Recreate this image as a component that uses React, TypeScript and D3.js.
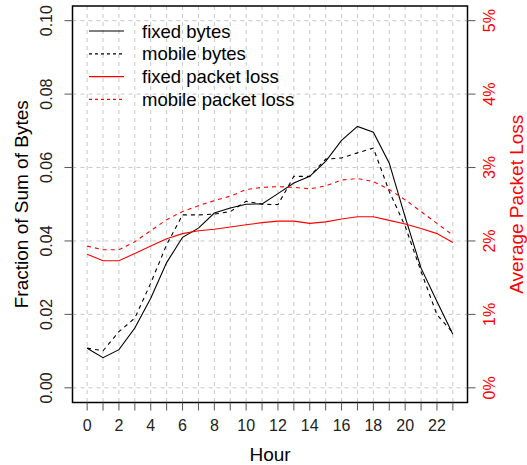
import React from 'react';
import * as d3 from 'd3';

const hours = d3.range(0, 24);
const fixedBytes = [0.0108, 0.0082, 0.0104, 0.0163, 0.0244, 0.0341, 0.0410, 0.0435, 0.0476, 0.0490, 0.0500, 0.0501, 0.0529, 0.0558, 0.0576, 0.0617, 0.0674, 0.0712, 0.0696, 0.0612, 0.0465, 0.0326, 0.0235, 0.0146];
const mobileBytes = [0.0108, 0.0101, 0.0153, 0.0190, 0.0285, 0.0390, 0.0471, 0.0471, 0.0473, 0.0480, 0.0508, 0.0500, 0.0499, 0.0576, 0.0576, 0.0623, 0.0626, 0.0640, 0.0653, 0.0535, 0.0440, 0.0317, 0.0199, 0.0150];
// packet loss in percent
const fixedLoss = [1.82, 1.73, 1.73, 1.83, 1.93, 2.03, 2.10, 2.14, 2.16, 2.19, 2.22, 2.25, 2.27, 2.27, 2.24, 2.26, 2.30, 2.33, 2.33, 2.28, 2.23, 2.17, 2.10, 1.98];
const mobileLoss = [1.93, 1.88, 1.88, 1.99, 2.14, 2.29, 2.40, 2.48, 2.55, 2.61, 2.70, 2.73, 2.74, 2.73, 2.71, 2.75, 2.83, 2.85, 2.81, 2.70, 2.56, 2.40, 2.24, 2.08];
const leftTicks = [0, 0.02, 0.04, 0.06, 0.08, 0.1];
const rightTicks = [0, 1, 2, 3, 4, 5];
const legendItems = [
  { label: 'fixed bytes', color: '#000', dash: null },
  { label: 'mobile bytes', color: '#000', dash: '4,4' },
  { label: 'fixed packet loss', color: '#ff0000', dash: null },
  { label: 'mobile packet loss', color: '#ff0000', dash: '4,4' },
];

const width = 527, height = 465;
const box = { left: 72.5, right: 467.5, top: 6, bottom: 402.5 };
const font = '"Liberation Sans", Arial, Helvetica, sans-serif';

export default function App() {
  const x = d3.scaleLinear().domain([-0.92, 23.92]).range([box.left, box.right]);
  const y = d3.scaleLinear().domain([-0.004, 0.104]).range([box.bottom, box.top]);
  const yr = d3.scaleLinear().domain([-0.2, 5.2]).range([box.bottom, box.top]);

  const lineB = d3.line<number>().x((_, i) => x(hours[i])).y(d => y(d));
  const lineL = d3.line<number>().x((_, i) => x(hours[i])).y(d => yr(d));

  const series = [
    { d: lineB(fixedBytes), color: '#000', dash: null },
    { d: lineB(mobileBytes), color: '#000', dash: '4,4' },
    { d: lineL(fixedLoss), color: '#ff0000', dash: null },
    { d: lineL(mobileLoss), color: '#ff0000', dash: '4,4' },
  ];

  const midY = (box.top + box.bottom) / 2;

  return (
    <svg width={width} height={height} style={{ position: 'absolute', left: 0, top: 0, background: '#fff' }} fontFamily={font}>
      {/* grid */}
      <g stroke="#c8c8c8" strokeDasharray="4,4" strokeWidth={1}>
        {hours.map(h => (
          <line key={'v' + h} x1={x(h)} x2={x(h)} y1={box.top} y2={box.bottom} />
        ))}
        {leftTicks.map(t => (
          <line key={'h' + t} x1={box.left} x2={box.right} y1={y(t)} y2={y(t)} />
        ))}
      </g>

      {/* series */}
      {series.map((s, i) => (
        <path key={i} d={s.d || ''} fill="none" stroke={s.color} strokeWidth={1.1} strokeDasharray={s.dash || undefined} />
      ))}

      {/* box */}
      <rect x={box.left} y={box.top} width={box.right - box.left} height={box.bottom - box.top} fill="none" stroke="#000" strokeWidth={1.5} />

      {/* x axis */}
      <g>
        {hours.map(h => (
          <line key={h} x1={x(h)} x2={x(h)} y1={box.bottom} y2={box.bottom + 8} stroke="#555" />
        ))}
        {hours.filter(h => h % 2 === 0).map(h => (
          <text key={h} x={x(h)} y={431} textAnchor="middle" fontSize={16} fill="#222">{h}</text>
        ))}
        <text x={(box.left + box.right) / 2} y={461} textAnchor="middle" fontSize={19} fill="#000">Hour</text>
      </g>

      {/* left axis */}
      <g>
        {leftTicks.map(t => (
          <g key={t}>
            <line x1={box.left - 8} x2={box.left} y1={y(t)} y2={y(t)} stroke="#555" />
            <text transform={`translate(52,${y(t)}) rotate(-90)`} textAnchor="middle" fontSize={16} fill="#222">{d3.format('.2f')(t)}</text>
          </g>
        ))}
        <text transform={`translate(27.5,${midY}) rotate(-90)`} textAnchor="middle" fontSize={19} fill="#000">Fraction of Sum of Bytes</text>
      </g>

      {/* right axis */}
      <g>
        {rightTicks.map(t => (
          <g key={t}>
            <line x1={box.right} x2={box.right + 8} y1={yr(t)} y2={yr(t)} stroke="#555" />
            <text transform={`translate(495,${yr(t)}) rotate(-90)`} textAnchor="middle" fontSize={16} fill="#ff0000">{t + '%'}</text>
          </g>
        ))}
        <text transform={`translate(523,${midY}) rotate(-90)`} textAnchor="middle" fontSize={19} fill="#ff0000">Average Packet Loss</text>
      </g>

      {/* legend */}
      <g>
        {legendItems.map((it, i) => {
          const ly = 31 + i * 22.8;
          return (
            <g key={it.label}>
              <line x1={89} x2={124} y1={ly} y2={ly} stroke={it.color} strokeWidth={1.2} strokeDasharray={it.dash ? '3,3' : undefined} />
              <text x={142} y={ly + 6.5} fontSize={18.5} fill="#000">{it.label}</text>
            </g>
          );
        })}
      </g>
    </svg>
  );
}
